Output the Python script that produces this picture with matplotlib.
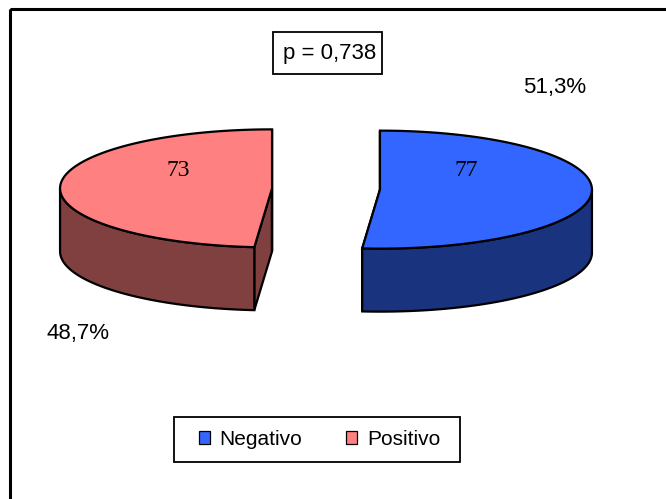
import numpy as np
import matplotlib
matplotlib.use('Agg')
import matplotlib.pyplot as plt
from matplotlib.patches import Polygon, Rectangle, Patch

# Data
labels = ['Negativo', 'Positivo']
counts = [77, 73]
p_value = '0,738'

top_colors = ['#3366FF', '#FF8080']
side_colors = ['#1A337F', '#804040']

plt.rcParams['font.family'] = ['Liberation Sans', 'DejaVu Sans']

fig = plt.figure(figsize=(6.66, 4.99), dpi=100)
ax = fig.add_axes([0, 0, 1, 1])
ax.set_xlim(0, 666)
ax.set_ylim(499, 0)
ax.axis('off')

# 3d pie geometry (pixels)
cx, cy = 326, 189
a, b = 212, 59
depth = 63
explode = 54
lw = 1.6


def rim(ox, oy, t):
    r = np.radians(t)
    return ox + a*np.sin(r), oy - b*np.cos(r)


fracs = np.array(counts) / sum(counts)
edges = np.concatenate([[0], np.cumsum(fracs)*360])

for i in range(len(counts)):
    t0, t1 = edges[i], edges[i+1]
    mid = np.radians((t0 + t1) / 2)
    ox = cx + explode*np.sin(mid)
    oy = cy - explode*np.cos(mid)*b/a

    # cut faces
    for t in (t0, t1):
        px, py = rim(ox, oy, t)
        face = [(ox, oy), (px, py), (px, py + depth), (ox, oy + depth)]
        ax.add_patch(Polygon(face, closed=True, fc=side_colors[i], ec='black', lw=lw))

    # outer wall, front half only
    lo, hi = max(t0, 90), min(t1, 270)
    if hi > lo:
        ts = np.linspace(lo, hi, 200)
        xs, ys = rim(ox, oy, ts)
        pts = np.column_stack([np.concatenate([xs, xs[::-1]]),
                               np.concatenate([ys, ys[::-1] + depth])])
        ax.add_patch(Polygon(pts, closed=True, fc=side_colors[i], ec='black', lw=lw))

    # top face
    ts = np.linspace(t0, t1, 300)
    xs, ys = rim(ox, oy, ts)
    pts = np.vstack([[ox, oy], np.column_stack([xs, ys])])
    ax.add_patch(Polygon(pts, closed=True, fc=top_colors[i], ec='black', lw=lw, joinstyle='miter'))

# value labels on the slices
value_pos = [(466, 170), (178, 170)]
for (x, y), v in zip(value_pos, counts):
    ax.text(x, y, str(v), fontsize=17, family='Liberation Serif', ha='center', va='center')

# percentage labels
pct_pos = [(555, 87), (78, 333)]
for (x, y), f in zip(pct_pos, fracs):
    ax.text(x, y, f'{f*100:.1f}%'.replace('.', ','), fontsize=16, ha='center', va='center')

# p value box
ax.add_patch(Rectangle((273, 32), 109, 42, fill=False, ec='black', lw=1.3))
ax.text(330, 53, 'p = ' + p_value, fontsize=16, ha='center', va='center')

# outer frame
ax.add_patch(Rectangle((10, 9), 700, 600, fill=False, ec='black', lw=2.2))

# legend, frame drawn separately
ax.add_patch(Rectangle((174, 417), 286, 45, fill=False, ec='black', lw=1.3))
handles = [Patch(fc=c, ec='black', lw=0.9) for c in top_colors]
ax.legend(handles, labels, loc='center', bbox_to_anchor=(319.5, 439.5),
          bbox_transform=ax.transData, ncol=2, fontsize=15, frameon=False,
          handlelength=0.53, handleheight=0.53, handletextpad=0.48,
          columnspacing=2.1, borderpad=0, borderaxespad=0)

fig.savefig('out.png', dpi=100)
